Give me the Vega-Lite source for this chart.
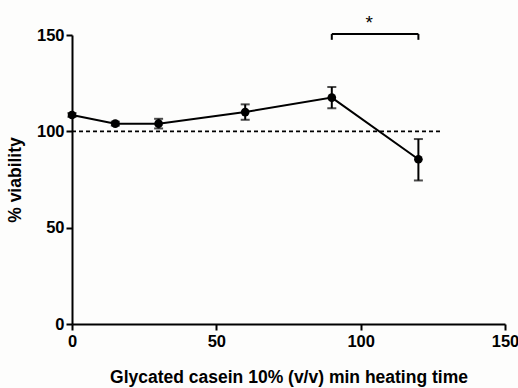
{
  "$schema": "https://vega.github.io/schema/vega-lite/v6.json",
  "width": 433,
  "height": 289,
  "autosize": "none",
  "padding": {"left": 72, "top": 35, "right": 13, "bottom": 64},
  "background": "#fdfdfc",
  "config": {
    "view": {"stroke": null},
    "font": "Liberation Sans",
    "axis": {
      "grid": false,
      "domainColor": "#000",
      "domainWidth": 2,
      "tickColor": "#000",
      "tickWidth": 2,
      "tickSize": 6,
      "labelFlush": false,
      "labelFont": "Liberation Sans",
      "labelFontWeight": 700,
      "labelFontSize": 16.5,
      "labelColor": "#000",
      "titleFont": "Liberation Sans",
      "titleFontWeight": 700,
      "titleFontSize": 17.5,
      "titleColor": "#000"
    }
  },
  "datasets": {
    "pts": [
      {"t": 0, "v": 108.5, "lo": 107.5, "hi": 109.5},
      {"t": 15, "v": 104, "lo": 103, "hi": 105},
      {"t": 30, "v": 104, "lo": 101.5, "hi": 106.5},
      {"t": 60, "v": 110, "lo": 106, "hi": 114},
      {"t": 90, "v": 117.5, "lo": 112, "hi": 123},
      {"t": 120, "v": 85.5, "lo": 74.5, "hi": 96}
    ],
    "ref": [{"x1": 0, "x2": 128, "y": 100}],
    "brh": [{"x1": 90, "x2": 120, "y": 150.5}],
    "brv": [{"x": 90, "y1": 147.5, "y2": 150.5}, {"x": 120, "y1": 147.5, "y2": 150.5}],
    "star": [{"x": 103, "y": 156, "s": "*"}]
  },
  "layer": [
    {
      "data": {"name": "ref"},
      "mark": {"type": "rule", "strokeDash": [4, 3], "strokeWidth": 1.6, "color": "#000"},
      "encoding": {
        "x": {"field": "x1", "type": "quantitative", "scale": {"domain": [0, 150], "nice": false},
          "axis": {"values": [0, 50, 100, 150], "labelPadding": 3, "labelFontWeight": "bold", "titleFontWeight": "bold", "title": "Glycated casein 10% (v/v) min heating time", "titlePadding": 19}},
        "x2": {"field": "x2"},
        "y": {"field": "y", "type": "quantitative", "scale": {"domain": [0, 150], "nice": false},
          "axis": {"values": [0, 50, 100, 150], "labelFontWeight": "bold", "titleFontWeight": "bold", "title": "% viability", "titlePadding": 12}}
      }
    },
    {
      "data": {"name": "pts"},
      "mark": {"type": "line", "color": "#000", "strokeWidth": 2},
      "encoding": {
        "x": {"field": "t", "type": "quantitative", "scale": {"domain": [0, 150], "nice": false}},
        "y": {"field": "v", "type": "quantitative", "scale": {"domain": [0, 150], "nice": false}}
      }
    },
    {
      "data": {"name": "pts"},
      "mark": {"type": "rule", "color": "#000", "strokeWidth": 2},
      "encoding": {
        "x": {"field": "t", "type": "quantitative", "scale": {"domain": [0, 150], "nice": false}},
        "y": {"field": "lo", "type": "quantitative", "scale": {"domain": [0, 150], "nice": false}},
        "y2": {"field": "hi"}
      }
    },
    {
      "data": {"name": "pts"},
      "mark": {"type": "tick", "color": "#000", "thickness": 2, "size": 9, "orient": "horizontal"},
      "encoding": {
        "x": {"field": "t", "type": "quantitative", "scale": {"domain": [0, 150], "nice": false}},
        "y": {"field": "lo", "type": "quantitative", "scale": {"domain": [0, 150], "nice": false}}
      }
    },
    {
      "data": {"name": "pts"},
      "mark": {"type": "tick", "color": "#000", "thickness": 2, "size": 9, "orient": "horizontal"},
      "encoding": {
        "x": {"field": "t", "type": "quantitative", "scale": {"domain": [0, 150], "nice": false}},
        "y": {"field": "hi", "type": "quantitative", "scale": {"domain": [0, 150], "nice": false}}
      }
    },
    {
      "data": {"name": "pts"},
      "mark": {"type": "point", "filled": true, "color": "#000", "size": 75, "opacity": 1},
      "encoding": {
        "x": {"field": "t", "type": "quantitative", "scale": {"domain": [0, 150], "nice": false}},
        "y": {"field": "v", "type": "quantitative", "scale": {"domain": [0, 150], "nice": false}}
      }
    },
    {
      "data": {"name": "brh"},
      "mark": {"type": "rule", "color": "#000", "strokeWidth": 2},
      "encoding": {
        "x": {"field": "x1", "type": "quantitative", "scale": {"domain": [0, 150], "nice": false}},
        "x2": {"field": "x2"},
        "y": {"field": "y", "type": "quantitative", "scale": {"domain": [0, 150], "nice": false}}
      }
    },
    {
      "data": {"name": "brv"},
      "mark": {"type": "rule", "color": "#000", "strokeWidth": 2},
      "encoding": {
        "x": {"field": "x", "type": "quantitative", "scale": {"domain": [0, 150], "nice": false}},
        "y": {"field": "y1", "type": "quantitative", "scale": {"domain": [0, 150], "nice": false}},
        "y2": {"field": "y2"}
      }
    },
    {
      "data": {"name": "star"},
      "mark": {"type": "text", "fontSize": 19, "font": "Liberation Sans", "color": "#000", "baseline": "middle"},
      "encoding": {
        "x": {"field": "x", "type": "quantitative", "scale": {"domain": [0, 150], "nice": false}},
        "y": {"field": "y", "type": "quantitative", "scale": {"domain": [0, 150], "nice": false}},
        "text": {"field": "s"}
      }
    }
  ]
}
